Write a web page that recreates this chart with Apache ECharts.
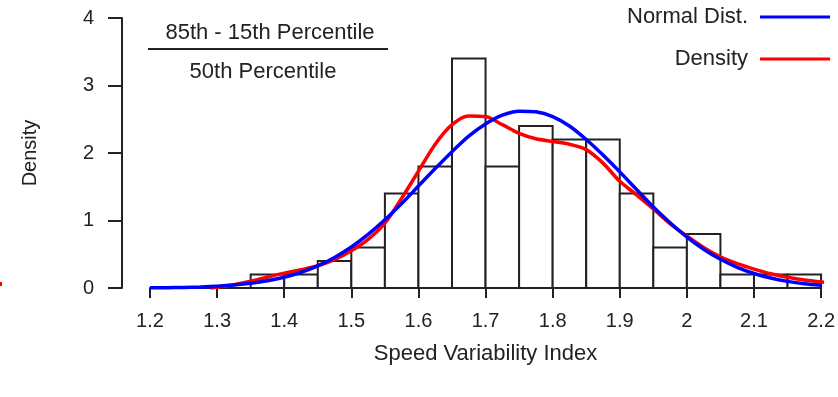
<!DOCTYPE html>
<html>
<head>
<meta charset="utf-8">
<script src="https://cdn.jsdelivr.net/npm/echarts@6/dist/echarts.min.js"></script>
<style>
html,body{margin:0;padding:0;background:#fff;}
#chart{width:838px;height:397px;}
</style>
</head>
<body>
<div id="chart"></div>
<script>
// Histogram bins (Speed Variability Index) and densities
const binLeft  = [1.30, 1.35, 1.40, 1.45, 1.50, 1.55, 1.60, 1.65, 1.70, 1.75, 1.80, 1.85, 1.90, 1.95, 2.00, 2.05, 2.10, 2.15];
const binRight = [1.35, 1.40, 1.45, 1.50, 1.55, 1.60, 1.65, 1.70, 1.75, 1.80, 1.85, 1.90, 1.95, 2.00, 2.05, 2.10, 2.15, 2.20];
const binDensity = [0, 0.2, 0.2, 0.4, 0.6, 1.4, 1.8, 3.4, 1.8, 2.4, 2.2, 2.2, 1.4, 0.6, 0.8, 0.2, 0.2, 0.2];

// Normal distribution curve (blue)
const normalX = [1.200, 1.225, 1.250, 1.275, 1.300, 1.325, 1.350, 1.375, 1.400, 1.425, 1.450, 1.475, 1.500, 1.525, 1.550, 1.575, 1.600, 1.625, 1.650, 1.675, 1.700, 1.725, 1.750, 1.775, 1.800, 1.825, 1.850, 1.875, 1.900, 1.925, 1.950, 1.975, 2.000, 2.025, 2.050, 2.075, 2.100, 2.125, 2.150, 2.175, 2.200];
const normalY = [0.003, 0.005, 0.009, 0.016, 0.027, 0.044, 0.069, 0.106, 0.159, 0.232, 0.328, 0.453, 0.608, 0.795, 1.010, 1.250, 1.510, 1.770, 2.020, 2.250, 2.430, 2.560, 2.620, 2.610, 2.540, 2.400, 2.200, 1.970, 1.720, 1.460, 1.200, 0.966, 0.754, 0.575, 0.425, 0.307, 0.215, 0.147, 0.098, 0.063, 0.040];

// Kernel density curve (red)
const densityX = [1.290, 1.300, 1.325, 1.350, 1.375, 1.400, 1.425, 1.450, 1.475, 1.500, 1.525, 1.550, 1.575, 1.600, 1.625, 1.650, 1.675, 1.700, 1.725, 1.750, 1.775, 1.800, 1.825, 1.850, 1.875, 1.900, 1.925, 1.950, 1.975, 2.000, 2.025, 2.050, 2.075, 2.100, 2.125, 2.150, 2.175, 2.200, 2.215];
const densityY = [0.000, 0.010, 0.050, 0.100, 0.160, 0.220, 0.270, 0.330, 0.420, 0.550, 0.720, 0.960, 1.330, 1.730, 2.130, 2.420, 2.550, 2.540, 2.420, 2.290, 2.210, 2.170, 2.130, 2.050, 1.850, 1.580, 1.380, 1.170, 0.950, 0.770, 0.600, 0.460, 0.360, 0.280, 0.210, 0.160, 0.120, 0.090, 0.070];

const xTicks = [1.2, 1.3, 1.4, 1.5, 1.6, 1.7, 1.8, 1.9, 2.0, 2.1, 2.2];
const yTicks = [0, 1, 2, 3, 4];

const FONT = "'Liberation Sans', Arial, sans-serif";
const INK = '#222';

const histData = binLeft.map((l, i) => [l, binRight[i], binDensity[i]]);
const normalData = normalX.map((x, i) => [x, normalY[i]]);
const densityData = densityX.map((x, i) => [x, densityY[i]]);

const chart = echarts.init(document.getElementById('chart'), null, {renderer: 'canvas'});
chart.setOption({
  animation: false,
  backgroundColor: '#fff',
  textStyle: {fontFamily: FONT},
  grid: {left: 150, right: 9, top: 18, bottom: 109, containLabel: false},
  xAxis: {
    type: 'value',
    min: xTicks[0], max: xTicks[xTicks.length - 1], interval: 0.1,
    offset: 11,
    name: 'Speed Variability Index',
    nameLocation: 'middle', nameGap: 44,
    nameTextStyle: {fontSize: 22, color: INK, fontFamily: FONT},
    axisLine: {show: true, lineStyle: {color: INK, width: 2}},
    axisTick: {show: true, length: 10, lineStyle: {color: INK, width: 2}},
    axisLabel: {fontSize: 20, color: INK, margin: 12, fontFamily: FONT,
      showMinLabel: true, showMaxLabel: true,
      formatter: v => String(Math.round(v * 10) / 10)},
    splitLine: {show: false}
  },
  yAxis: {
    type: 'value',
    min: yTicks[0], max: yTicks[yTicks.length - 1], interval: 1,
    offset: 28,
    name: 'Density',
    nameLocation: 'middle', nameGap: 82, nameRotate: 90,
    nameTextStyle: {fontSize: 20, color: INK, fontFamily: FONT},
    axisLine: {show: true, lineStyle: {color: INK, width: 2}},
    axisTick: {show: true, length: 14, lineStyle: {color: INK, width: 2}},
    axisLabel: {fontSize: 20, color: INK, margin: 28, fontFamily: FONT},
    splitLine: {show: false}
  },
  legend: {
    data: ['Normal Dist.', 'Density'],
    orient: 'vertical', align: 'right',
    right: 8, top: 6, padding: 0,
    icon: 'rect', itemWidth: 70, itemHeight: 3, itemGap: 20,
    textStyle: {fontSize: 22, color: INK, fontFamily: FONT, padding: [0, 7, 0, 0]}
  },
  graphic: [
    {type: 'text', x: 270, y: 33, style: {text: '85th - 15th Percentile', fill: INK, font: '22px ' + FONT, textAlign: 'center', textVerticalAlign: 'middle'}},
    {type: 'line', shape: {x1: 148, y1: 49, x2: 388, y2: 49}, style: {stroke: INK, lineWidth: 2}},
    {type: 'text', x: 263, y: 72, style: {text: '50th Percentile', fill: INK, font: '22px ' + FONT, textAlign: 'center', textVerticalAlign: 'middle'}},
    {type: 'rect', shape: {x: 0, y: 282, width: 2, height: 4}, style: {fill: '#ff0000'}}
  ],
  series: [
    {
      name: 'Histogram',
      type: 'custom',
      data: histData,
      encode: {x: [0, 1], y: 2},
      renderItem: function (params, api) {
        const p0 = api.coord([api.value(0), api.value(2)]);
        const p1 = api.coord([api.value(1), 0]);
        return {
          type: 'rect',
          shape: {x: p0[0], y: p0[1], width: p1[0] - p0[0], height: p1[1] - p0[1]},
          style: {fill: '#fff', stroke: INK, lineWidth: 2}
        };
      },
      z: 1
    },
    {
      name: 'Normal Dist.',
      type: 'line',
      data: normalData,
      smooth: 0.3,
      showSymbol: false,
      clip: false,
      color: '#0000ff',
      lineStyle: {color: '#0000ff', width: 3.5},
      z: 3
    },
    {
      name: 'Density',
      type: 'line',
      data: densityData,
      smooth: 0.3,
      showSymbol: false,
      clip: false,
      color: '#ff0000',
      lineStyle: {color: '#ff0000', width: 3.5},
      z: 2
    }
  ]
});
</script>
</body>
</html>
